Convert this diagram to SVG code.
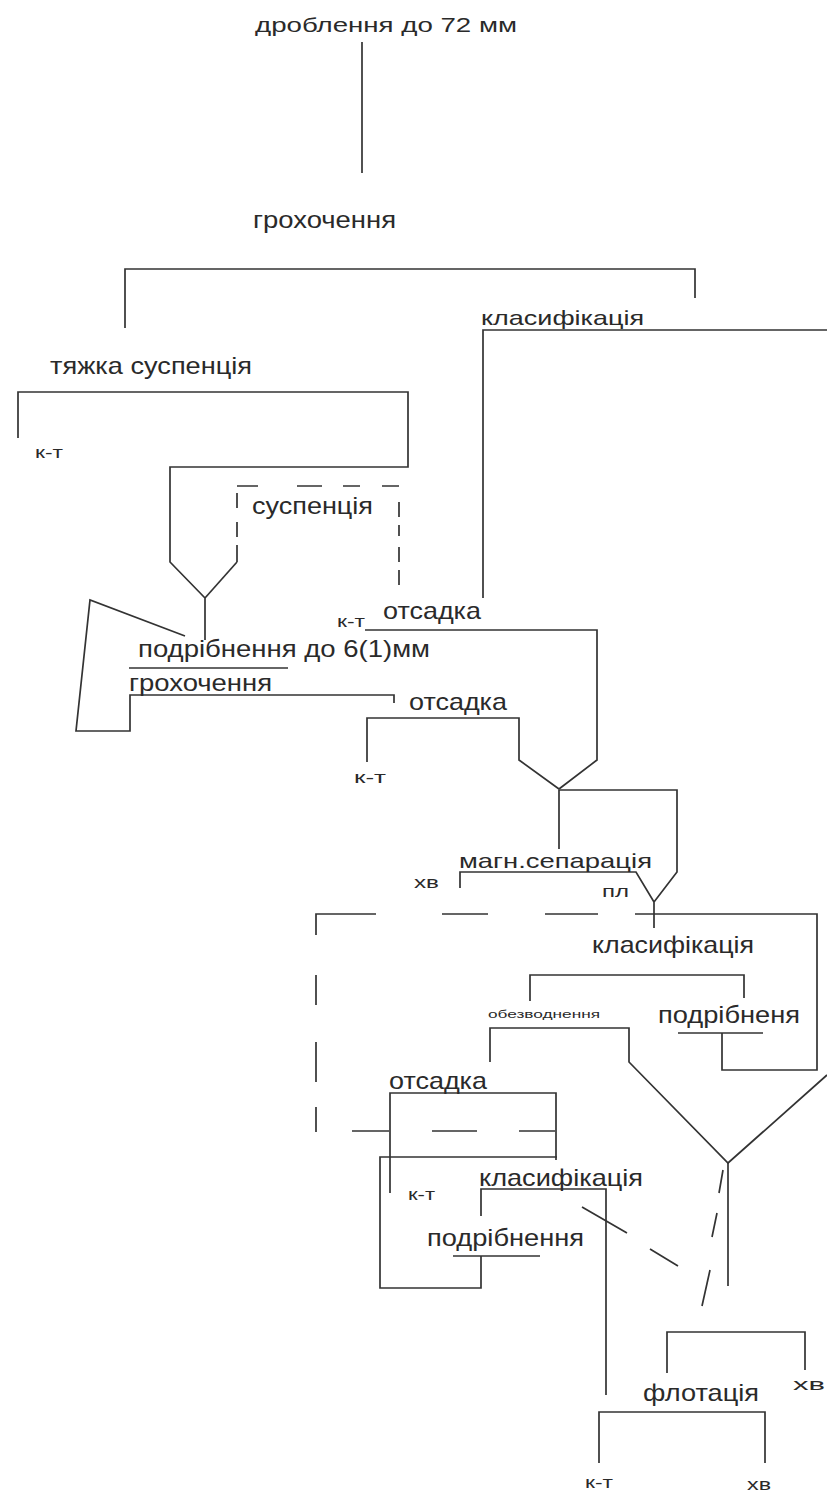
<svg xmlns="http://www.w3.org/2000/svg" width="827" height="1505" viewBox="0 0 827 1505">
<style>
text{font-family:"Liberation Sans","DejaVu Sans",Arial,sans-serif;fill:#2a2a2a}
.l{font-size:24px}
.m{font-size:21px}
.s{font-size:17px}
.t{font-size:10px}
.c{fill:none;stroke:#333;stroke-width:1.7}
.d{fill:none;stroke:#333;stroke-width:1.7}
</style>
<rect x="0" y="0" width="827" height="1505" fill="#fff"/>
<g id="connectors">
<path class="c" d="M362,42V173"/>
<path class="c" d="M125,328V269H695V298"/>
<path class="c" d="M483,598V330H827"/>
<path class="c" d="M18,438V392H408V467H170V562L205,598V640"/>
<path class="c" d="M237,562L205,598"/>
<path class="c" d="M185,636L90,600L76,731H130V695H394V703"/>
<path class="c" d="M129,668H288"/>
<path class="c" d="M365,630H597V760L559,789"/>
<path class="c" d="M367,762V718H519V760L559,789"/>
<path class="c" d="M559,849V790H677V872L654,902V928"/>
<path class="c" d="M460,888V872H636L654,902"/>
<path class="c" d="M635,914H817V1070H722V1033"/>
<path class="c" d="M678,1033H763"/>
<path class="c" d="M530,1001V975H744V998"/>
<path class="c" d="M490,1062V1028H629V1062L728,1163L827,1075"/>
<path class="c" d="M728,1163V1286"/>
<path class="c" d="M390,1193V1093H556V1160"/>
<path class="c" d="M557,1157H380V1288H481V1256"/>
<path class="c" d="M453,1256H540"/>
<path class="c" d="M481,1216V1189H606V1395"/>
<path class="c" d="M667,1373V1332H805V1370"/>
<path class="c" d="M599,1463V1412H765V1463"/>
<path class="d" d="M237,486H258M297,486H322M343,486H360M382,486H399M237,493V508M237,522V537M237,545V562M399,502V517M399,525V536M399,547V562M399,570V585"/>
<path class="d" d="M316,935V914H376M442,914H488M545,914H598M316,975V1005M316,1042V1082M316,1107V1132M352,1131H389M432,1131H477M519,1131H555"/>
<path class="d" d="M582,1207L627,1233M650,1249L678,1266"/>
<path class="d" d="M723,1170L719,1193M717,1213L712,1237M710,1270L702,1306"/>
</g>
<g id="n-droblennia"><text class="m" x="255" y="32" textLength="262" lengthAdjust="spacingAndGlyphs">дроблення до 72 мм</text></g>
<g id="n-grokhochennia1"><text class="l" x="253" y="228" textLength="143" lengthAdjust="spacingAndGlyphs">грохочення</text></g>
<g id="n-klasyf1"><text class="m" x="481" y="325" textLength="163" lengthAdjust="spacingAndGlyphs">класифікація</text></g>
<g id="n-tiazhka"><text class="l" x="50" y="374" textLength="202" lengthAdjust="spacingAndGlyphs">тяжка суспенція</text></g>
<g id="n-kt1"><text class="s" x="35" y="458" textLength="28" lengthAdjust="spacingAndGlyphs">к-т</text></g>
<g id="n-suspenziia"><text class="l" x="252" y="514" textLength="121" lengthAdjust="spacingAndGlyphs">суспенція</text></g>
<g id="n-kt2"><text class="s" x="337" y="627" textLength="28" lengthAdjust="spacingAndGlyphs">к-т</text></g>
<g id="n-otsadka1"><text class="l" x="383" y="619" textLength="98" lengthAdjust="spacingAndGlyphs">отсадка</text></g>
<g id="n-podribn1"><text class="l" x="138" y="657" textLength="292" lengthAdjust="spacingAndGlyphs">подрібнення до 6(1)мм</text></g>
<g id="n-grokhochennia2"><text class="l" x="129" y="691" textLength="143" lengthAdjust="spacingAndGlyphs">грохочення</text></g>
<g id="n-otsadka2"><text class="l" x="409" y="710" textLength="98" lengthAdjust="spacingAndGlyphs">отсадка</text></g>
<g id="n-kt3"><text class="s" x="354" y="783" textLength="32" lengthAdjust="spacingAndGlyphs">к-т</text></g>
<g id="n-magn"><text class="m" x="459" y="868" textLength="193" lengthAdjust="spacingAndGlyphs">магн.сепарація</text></g>
<g id="n-khv1"><text class="s" x="414" y="888" textLength="25" lengthAdjust="spacingAndGlyphs">хв</text></g>
<g id="n-pl"><text class="s" x="602" y="897" textLength="27" lengthAdjust="spacingAndGlyphs">пл</text></g>
<g id="n-klasyf2"><text class="l" x="592" y="953" textLength="162" lengthAdjust="spacingAndGlyphs">класифікація</text></g>
<g id="n-zneovodn"><text class="t" x="488" y="1018" textLength="112" lengthAdjust="spacingAndGlyphs">обезводнення</text></g>
<g id="n-podribn2"><text class="l" x="658" y="1023" textLength="142" lengthAdjust="spacingAndGlyphs">подрібненя</text></g>
<g id="n-otsadka3"><text class="l" x="389" y="1089" textLength="98" lengthAdjust="spacingAndGlyphs">отсадка</text></g>
<g id="n-klasyf3"><text class="l" x="479" y="1186" textLength="164" lengthAdjust="spacingAndGlyphs">класифікація</text></g>
<g id="n-kt4"><text class="s" x="408" y="1200" textLength="27" lengthAdjust="spacingAndGlyphs">к-т</text></g>
<g id="n-podribn3"><text class="l" x="427" y="1246" textLength="157" lengthAdjust="spacingAndGlyphs">подрібнення</text></g>
<g id="n-khv2"><text class="s" x="793" y="1390" textLength="32" lengthAdjust="spacingAndGlyphs">хв</text></g>
<g id="n-flotatsiia"><text class="l" x="643" y="1401" textLength="116" lengthAdjust="spacingAndGlyphs">флотація</text></g>
<g id="n-kt5"><text class="s" x="585" y="1488" textLength="28" lengthAdjust="spacingAndGlyphs">к-т</text></g>
<g id="n-khv3"><text class="s" x="747" y="1490" textLength="24" lengthAdjust="spacingAndGlyphs">хв</text></g>
</svg>
